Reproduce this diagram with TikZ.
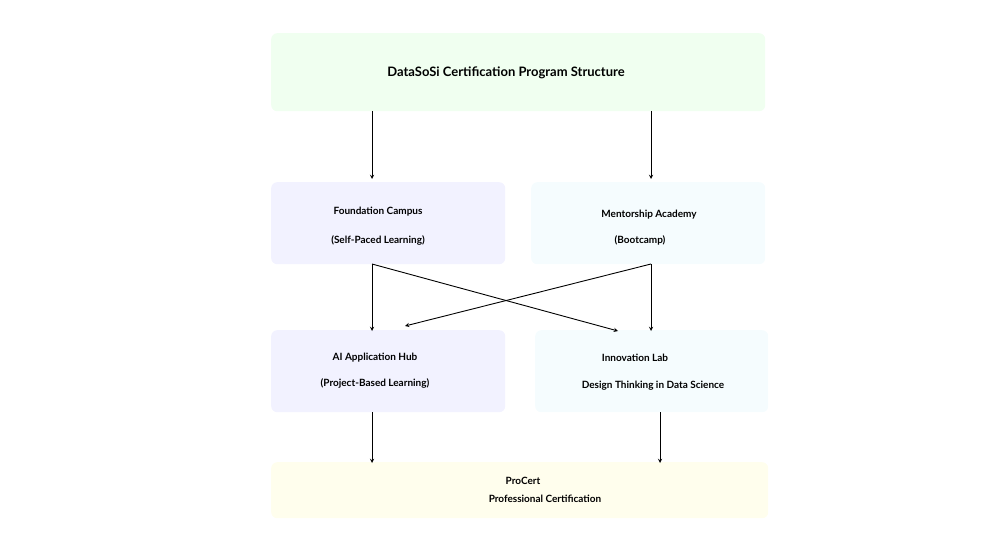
\documentclass[tikz,border=0pt]{standalone}
\usepackage{fontspec}
\setmainfont{Lato}
\tikzstyle{box}=[shape=rectangle, rounded corners=6pt, draw=none, anchor=north west]
\tikzstyle{txt}=[font=\bfseries\fontsize{10}{12}\selectfont, inner sep=0pt]
\tikzstyle{flow}=[->, line width=0.9pt]

\begin{document}
\begin{tikzpicture}[x=1pt, y=-1pt, >=stealth]
\useasboundingbox (0,0) rectangle (1000,545);

% boxes
\node[box, fill=green!6, minimum width=494pt, minimum height=78pt] (top) at (271,33) {};
\node[box, fill=blue!5, minimum width=234pt, minimum height=82pt] (fc) at (271,182) {};
\node[box, fill=cyan!4, minimum width=234pt, minimum height=82pt] (ma) at (531,182) {};
\node[box, fill=blue!5, minimum width=234pt, minimum height=82pt] (ai) at (271,330) {};
\node[box, fill=cyan!4, minimum width=233pt, minimum height=82pt] (il) at (535,330) {};
\node[box, fill=yellow!7, minimum width=497pt, minimum height=56pt] (pc) at (271,462) {};

% texts
\node[txt, font=\bfseries\fontsize{13}{15}\selectfont] (ttop) at (506,73) {DataSoSi Certification Program Structure};
\node[txt] (tfc1) at (378,212) {Foundation Campus};
\node[txt] (tfc2) at (378,240) {(Self-Paced Learning)};
\node[txt] (tma1) at (649,215) {Mentorship Academy};
\node[txt] (tma2) at (640,240) {(Bootcamp)};
\node[txt] (tai1) at (375,358) {AI Application Hub};
\node[txt] (tai2) at (375,383) {(Project-Based Learning)};
\node[txt] (til1) at (635,358) {Innovation Lab};
\node[txt] (til2) at (653,386) {Design Thinking in Data Science};
\node[txt] (tpc1) at (523,481) {ProCert};
\node[txt] (tpc2) at (545,499) {Professional Certification};

% arrows
\coordinate (a1) at (372,111); \coordinate (b1) at (372,179);
\coordinate (a2) at (651,111); \coordinate (b2) at (651,179);
\coordinate (c1) at (372,264); \coordinate (d1) at (372,331);
\coordinate (d2) at (618,331);
\coordinate (c2) at (651,264); \coordinate (d3) at (405,326);
\coordinate (d4) at (651,331);
\coordinate (e1) at (372,412); \coordinate (f1) at (372,463);
\coordinate (e2) at (660,412); \coordinate (f2) at (660,463);
\draw[flow] (a1) -- (b1);
\draw[flow] (a2) -- (b2);
\draw[flow] (c1) -- (d1);
\draw[flow] (c1) -- (d2);
\draw[flow] (c2) -- (d3);
\draw[flow] (c2) -- (d4);
\draw[flow] (e1) -- (f1);
\draw[flow] (e2) -- (f2);

\end{tikzpicture}
\end{document}
